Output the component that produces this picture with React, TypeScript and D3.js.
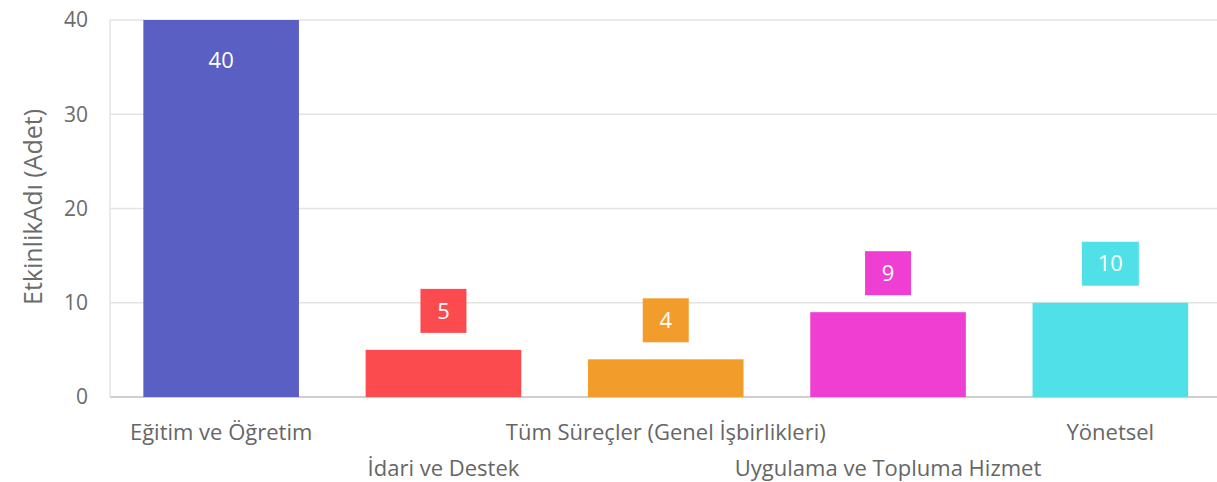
import React from "react";
import * as d3 from "d3";

const categories = [
  "Eğitim ve Öğretim",
  "İdari ve Destek",
  "Tüm Süreçler (Genel İşbirlikleri)",
  "Uygulama ve Topluma Hizmet",
  "Yönetsel",
];
const values = [40, 5, 4, 9, 10];
const colors = ["#5A5FC4", "#FC4B4E", "#F29C2C", "#EF3FD2", "#50E1E8"];
const yTicks = [0, 10, 20, 30, 40];
const yTitle = "EtkinlikAdı (Adet)";

const W = 1217;
const H = 482;
const left = 110;
const right = 1221.5;
const top = 20;
const bottom = 397;
const font = "'Open Sans', 'Segoe UI', sans-serif";

export default function App() {
  const x = d3
    .scaleBand<string>()
    .domain(categories)
    .range([left, right])
    .paddingInner(0.3)
    .paddingOuter(0.15);
  const y = d3.scaleLinear().domain([0, 40]).range([bottom, top]);
  const bw = x.bandwidth();

  return (
    <div style={{ position: "fixed", left: 0, top: 0 }}>
      <svg width={W} height={H} style={{ display: "block", fontFamily: font }}>
        <rect width={W} height={H} fill="#fff" />
        {yTicks.map((t) => (
          <g key={t}>
            <line
              x1={left}
              x2={W}
              y1={y(t)}
              y2={y(t)}
              stroke={t === 0 ? "#cfcfcf" : "#e3e3e3"}
              strokeWidth={t === 0 ? 2 : 1.5}
            />
            <text
              x={88}
              y={y(t)}
              dy="0.35em"
              textAnchor="end"
              fontSize={21}
              fill="#6b6b6b"
            >
              {t}
            </text>
          </g>
        ))}
        <line x1={left} x2={left} y1={top} y2={bottom} stroke="#e3e3e3" strokeWidth={1.5} />
        <text
          transform={`translate(42, 207) rotate(-90)`}
          textAnchor="middle"
          fontSize={25}
          fill="#6b6b6b"
        >
          {yTitle}
        </text>
        {categories.map((c, i) => {
          const bx = x(c)!;
          const cx = bx + bw / 2;
          const v = values[i];
          const by = y(v);
          const inside = v >= 30;
          const label = String(v);
          const boxW = label.length > 1 ? 57 : 46;
          const boxH = 44;
          return (
            <g key={c}>
              <rect x={bx} y={by} width={bw} height={bottom - by} fill={colors[i]} />
              {inside ? (
                <text
                  x={cx}
                  y={by + 40}
                  dy="0.35em"
                  textAnchor="middle"
                  fontSize={22}
                  fill="#fff"
                >
                  {label}
                </text>
              ) : (
                <g>
                  <rect
                    x={cx - boxW / 2}
                    y={by - 17 - boxH}
                    width={boxW}
                    height={boxH}
                    fill={colors[i]}
                  />
                  <text
                    x={cx}
                    y={by - 17 - boxH / 2}
                    dy="0.35em"
                    textAnchor="middle"
                    fontSize={22}
                    fill="#fff"
                  >
                    {label}
                  </text>
                </g>
              )}
              <text
                x={cx}
                y={i % 2 === 0 ? 440 : 476}
                textAnchor="middle"
                fontSize={22}
                fill="#666"
              >
                {c}
              </text>
            </g>
          );
        })}
      </svg>
    </div>
  );
}
